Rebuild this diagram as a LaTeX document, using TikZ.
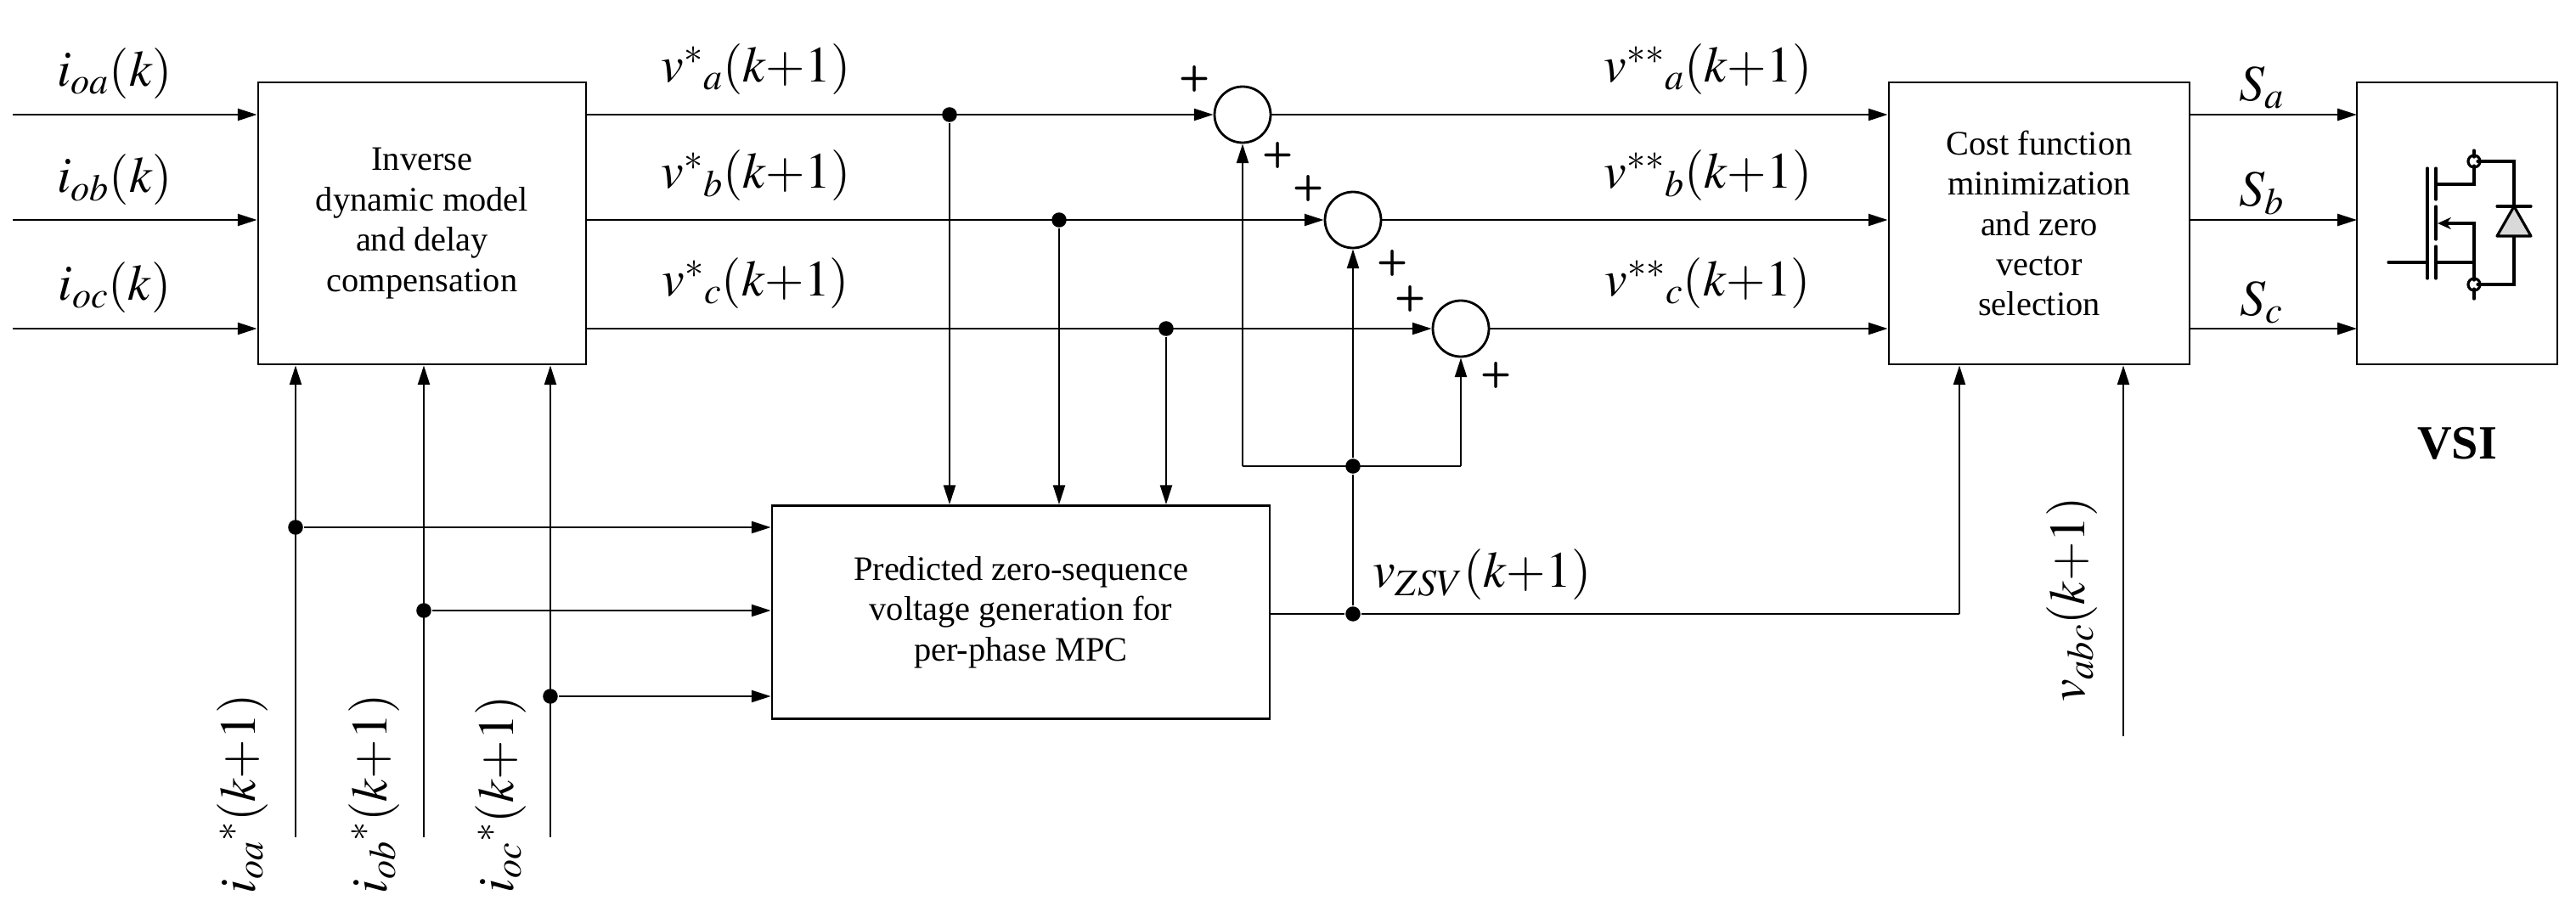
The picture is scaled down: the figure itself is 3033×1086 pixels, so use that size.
\documentclass[tikz,border=0pt]{standalone}
\usepackage{amsmath}
\usepackage{mathptmx}
\usepackage{fontspec}
\setmainfont{Liberation Serif}
\usetikzlibrary{arrows.meta}
\begin{document}
\begin{tikzpicture}[x=0.02cm,y=-0.02cm,
  line width=1.3pt,
  >={Triangle[length=13pt,width=8pt]},
  blk/.style={draw,line width=1.6pt,inner sep=0pt},
  lab/.style={font=\fontsize{34}{36}\selectfont,inner sep=0pt},
  btxt/.style={font=\fontsize{23}{27}\selectfont,align=center},
  sumc/.style={draw,circle,minimum size=1.32cm,inner sep=0pt,line width=1.6pt},
  dot/.style={circle,fill,inner sep=0pt,minimum size=10pt},
  pl/.style={font=\sffamily\bfseries\fontsize{24}{24}\selectfont,inner sep=0pt}]
\useasboundingbox (0,0) rectangle (3033,1086);
% blocks
\node[blk,minimum width=7.72cm,minimum height=6.64cm,btxt] (B1) at (497,263) {Inverse\\dynamic model\\and delay\\compensation};
\node[blk,minimum width=11.72cm,minimum height=5.02cm,btxt] (B2) at (1202,721) {Predicted zero-sequence\\voltage generation for\\per-phase MPC};
\node[blk,minimum width=7.08cm,minimum height=6.64cm,btxt] (B3) at (2401,263) {Cost function\\minimization\\and zero\\vector\\selection};
\node[blk,minimum width=4.72cm,minimum height=6.64cm] (V) at (2893,263) {};
\node[font=\bfseries\fontsize{32}{32}\selectfont] (vsi) at (2893,522) {VSI};
% sum circles
\node[sumc] (c1) at (1463,135) {};
\node[sumc] (c2) at (1593,259) {};
\node[sumc] (c3) at (1720,387) {};
% inputs
\coordinate (ia) at (15,135); \coordinate (ib) at (15,259); \coordinate (ic) at (15,387);
\draw[->] (ia) -- (ia -| B1.west);
\draw[->] (ib) -- (ib -| B1.west);
\draw[->] (ic) -- (ic -| B1.west);
\node[lab] at (135,87) {$i_{oa}(k)$};
\node[lab] at (135,212) {$i_{ob}(k)$};
\node[lab] at (135,339) {$i_{oc}(k)$};
% outputs of B1
\coordinate (oa) at (690,135); \coordinate (ob) at (690,259); \coordinate (oc) at (690,387);
\node[dot] (da) at (1118,135) {};
\node[dot] (db) at (1247,259) {};
\node[dot] (dc) at (1373,387) {};
\draw[->] (oa) -- (c1.west);
\draw[->] (ob) -- (c2.west);
\draw[->] (oc) -- (c3.west);
\draw[->] (da) -- (da |- B2.north);
\draw[->] (db) -- (db |- B2.north);
\draw[->] (dc) -- (dc |- B2.north);
\node[lab] at (890,82) {$v^*{}_a(k\mathord{+}1)$};
\node[lab] at (890,207) {$v^*{}_b(k\mathord{+}1)$};
\node[lab] at (890,334) {$v^*{}_c(k\mathord{+}1)$};
% bottom inputs
\coordinate (ja) at (348,986); \coordinate (jb) at (499,986); \coordinate (jc) at (648,986);
\draw[->] (ja) -- (ja |- B1.south);
\draw[->] (jb) -- (jb |- B1.south);
\draw[->] (jc) -- (jc |- B1.south);
\node[dot] (ea) at (348,621) {};
\node[dot] (eb) at (499,719) {};
\node[dot] (ec) at (648,820) {};
\draw[->] (ea) -- (ea -| B2.west);
\draw[->] (eb) -- (eb -| B2.west);
\draw[->] (ec) -- (ec -| B2.west);
\node[lab,rotate=90] at (286,935) {$i_{oa}{}^*(k\mathord{+}1)$};
\node[lab,rotate=90] at (441,935) {$i_{ob}{}^*(k\mathord{+}1)$};
\node[lab,rotate=90] at (590,935) {$i_{oc}{}^*(k\mathord{+}1)$};
% zsv
\coordinate (z0) at (1495,723);
\node[dot] (zd) at (1593,723) {};
\node[dot] (zu) at (1593,549) {};
\coordinate (zl) at (1463,549); \coordinate (zr) at (1720,549);
\coordinate (zc) at (2307,723);
\draw (z0) -- (zd) -- (zc);
\draw[->] (zc) -- (zc |- B3.south);
\draw (zd) -- (zu);
\draw[->] (zu) -- (c2.south);
\draw (zl) -- (zr);
\draw[->] (zl) -- (c1.south);
\draw[->] (zr) -- (c3.south);
\node[lab,anchor=west] at (1615,677) {$v_{ZSV}(k\mathord{+}1)$};
% to B3
\draw[->] (c1.east) -- (c1 -| B3.west);
\draw[->] (c2.east) -- (c2 -| B3.west);
\draw[->] (c3.east) -- (c3 -| B3.west);
\node[lab] at (2011,82) {$v^{**}{}_a(k\mathord{+}1)$};
\node[lab] at (2011,207) {$v^{**}{}_b(k\mathord{+}1)$};
\node[lab] at (2011,334) {$v^{**}{}_c(k\mathord{+}1)$};
% vabc
\coordinate (va) at (2500,867);
\draw[->] (va) -- (va |- B3.south);
\node[lab,rotate=90] at (2440,706) {$v_{abc}(k\mathord{+}1)$};
% S
\draw[->] (2578,135) -- (2775,135);
\draw[->] (2578,259) -- (2775,259);
\draw[->] (2578,387) -- (2775,387);
\node[lab] at (2663,103) {$\boldsymbol{S_a}$};
\node[lab] at (2663,228) {$\boldsymbol{S_b}$};
\node[lab] at (2663,356) {$\boldsymbol{S_c}$};
% plus signs
\node[pl] at (1407,93) {+};
\node[pl] at (1505,183) {+};
\node[pl] at (1541,222) {+};
\node[pl] at (1640,310) {+};
\node[pl] at (1661,352) {+};
\node[pl] at (1762,442) {+};
% MOSFET icon
\begin{scope}[line width=1.8pt,line cap=round]
\draw (2812,309) -- (2858,309);
\draw (2858,198) -- (2858,328);
\draw (2868,198) -- (2868,235);
\draw (2868,243) -- (2868,282);
\draw (2868,290) -- (2868,328);
\draw (2868,217) -- (2913,217) -- (2913,195);
\draw (2913,185) -- (2913,177);
\draw (2913,190) circle (4pt);
\draw (2917,190) -- (2960,190) -- (2960,335) -- (2917,335);
\draw (2913,335) circle (4pt);
\draw (2913,340) -- (2913,352);
\draw (2868,309) -- (2913,309) -- (2913,330);
\draw (2913,309) -- (2913,263) -- (2880,263);
\draw[-{Stealth[length=9pt,width=8pt]}] (2890,263) -- (2870,263);
\draw[fill=gray!30,line join=round] (2960,243) -- (2940,278) -- (2980,278) -- cycle;
\draw (2940,243) -- (2980,243);
\end{scope}
\end{tikzpicture}
\end{document}
